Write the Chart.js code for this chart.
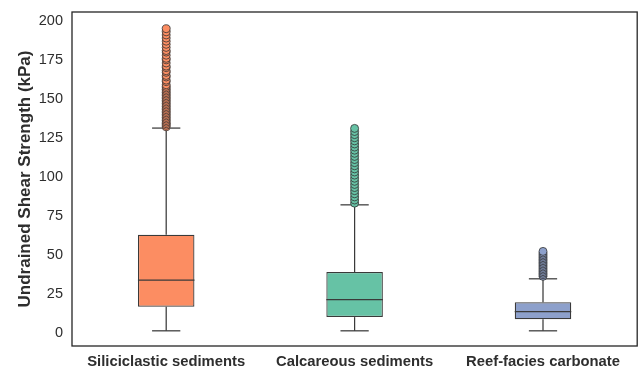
<!DOCTYPE html>
<html>
<head>
<meta charset="utf-8">
<script src="https://cdn.jsdelivr.net/npm/chart.js@4.4.1/dist/chart.umd.min.js"></script>
<style>
  html, body { margin: 0; padding: 0; background: #ffffff; }
  #wrap { width: 642px; height: 368px; position: relative; }
</style>
</head>
<body>
<div id="wrap"><canvas id="c" width="642" height="368"></canvas></div>
<script>
// Sediment groups and their box-plot statistics (kPa)
const categories = ['Siliciclastic sediments', 'Calcareous sediments', 'Reef-facies carbonate'];
const boxColors = ['#fc8d62', '#66c2a5', '#8da0cb'];
const lowerWhisker = [0, 0, 0];
const q1 = [15.4, 8.8, 7.5];
const median = [32.6, 20.1, 12.4];
const q3 = [61.7, 37.7, 18.4];
const upperWhisker = [130.2, 80.9, 33.4];
const yTicks = [0, 25, 50, 75, 100, 125, 150, 175, 200];

// Points beyond the upper whisker
const outliersSiliciclastic = [131, 132, 133, 134, 135, 136, 137, 138, 139, 140, 141, 142, 143, 144, 145,
  146, 147, 148, 149, 150, 151, 152, 153, 154, 155, 156, 157, 158, 160, 161, 163, 164, 166, 167, 169,
  170, 172, 174, 175, 177, 179, 180, 182, 184, 186, 188, 190, 192, 194];
const outliersCalcareous = [82, 84, 86, 88, 90, 92, 94, 96, 98, 100, 102, 104, 106, 108, 110, 112, 114,
  116, 118, 120, 122, 124, 126, 128, 130];
const outliersReef = [35, 36, 37, 38, 39, 40, 41, 42, 43, 44, 45, 46, 47, 48, 49, 50, 51];

const outlierGroups = [outliersSiliciclastic, outliersCalcareous, outliersReef];
const lineColor = '#3a3a3a';
const textColor = '#2e2e2e';
const fontFamily = '"Liberation Sans", Arial, sans-serif';

const outlierDatasets = outlierGroups.map((vals, i) => ({
  type: 'line',
  label: categories[i] + ' outliers',
  data: vals.map(v => ({ x: categories[i], y: v })),
  showLine: false,
  pointRadius: 4,
  pointHoverRadius: 4,
  pointBackgroundColor: boxColors[i],
  pointBorderColor: '#333333',
  pointBorderWidth: 0.8,
  order: 0
}));

// Whiskers and caps drawn under the boxes, medians and frame drawn on top
const boxExtras = {
  id: 'boxExtras',
  beforeDatasetsDraw(chart) {
    const { ctx, scales: { x, y } } = chart;
    const meta = chart.getDatasetMeta(0);
    ctx.save();
    ctx.strokeStyle = lineColor;
    ctx.lineWidth = 1.25;
    categories.forEach((c, i) => {
      const cx = x.getPixelForValue(i);
      const half = meta.data[i].width / 2;
      const capHalf = half / 2;
      const segs = [[q3[i], upperWhisker[i]], [q1[i], lowerWhisker[i]]];
      segs.forEach(([a, b]) => {
        ctx.beginPath();
        ctx.moveTo(cx, y.getPixelForValue(a));
        ctx.lineTo(cx, y.getPixelForValue(b));
        ctx.stroke();
        ctx.beginPath();
        ctx.moveTo(cx - capHalf, y.getPixelForValue(b));
        ctx.lineTo(cx + capHalf, y.getPixelForValue(b));
        ctx.stroke();
      });
    });
    ctx.restore();
  },
  afterDatasetsDraw(chart) {
    const { ctx, chartArea, scales: { x, y } } = chart;
    const meta = chart.getDatasetMeta(0);
    ctx.save();
    ctx.strokeStyle = lineColor;
    ctx.lineWidth = 1.25;
    categories.forEach((c, i) => {
      const cx = x.getPixelForValue(i);
      const half = meta.data[i].width / 2;
      const my = y.getPixelForValue(median[i]);
      ctx.beginPath();
      ctx.moveTo(cx - half, my);
      ctx.lineTo(cx + half, my);
      ctx.stroke();
    });
    ctx.strokeStyle = '#262626';
    ctx.lineWidth = 1.3;
    ctx.strokeRect(chartArea.left, chartArea.top, chartArea.right - chartArea.left, chartArea.bottom - chartArea.top);
    ctx.restore();
  }
};

new Chart(document.getElementById('c'), {
  type: 'bar',
  data: {
    labels: categories,
    datasets: [{
      label: 'Interquartile range',
      data: categories.map((c, i) => [q1[i], q3[i]]),
      backgroundColor: boxColors,
      borderColor: lineColor,
      borderWidth: 1.25,
      borderSkipped: false,
      categoryPercentage: 1,
      barPercentage: 0.3,
      order: 1
    }, ...outlierDatasets]
  },
  options: {
    responsive: false,
    animation: false,
    events: [],
    layout: { padding: { top: 12, right: 2, left: 0, bottom: 0 } },
    plugins: { legend: { display: false }, tooltip: { enabled: false } },
    scales: {
      x: {
        type: 'category',
        grid: { display: false, drawTicks: false },
        border: { display: false },
        ticks: {
          color: textColor,
          padding: 7,
          maxRotation: 0,
          font: { family: fontFamily, size: 14.8, weight: 'bold' }
        },
        afterFit(scale) {
          scale.height = 22;
          scale.paddingLeft = 0;
          scale.paddingRight = 0;
        }
      },
      y: {
        min: -9.75,
        max: 204.75,
        afterBuildTicks(scale) { scale.ticks = yTicks.map(v => ({ value: v })); },
        grid: { display: false, drawTicks: false },
        border: { display: false },
        ticks: {
          color: textColor,
          padding: 9,
          labelOffset: 2,
          font: { family: fontFamily, size: 14.5 }
        },
        title: {
          display: true,
          text: 'Undrained Shear Strength (kPa)',
          color: textColor,
          padding: { top: 15, bottom: 0 },
          font: { family: fontFamily, size: 17, weight: 'bold' }
        },
        afterFit(scale) {
          scale.width = 72;
          scale.paddingTop = 0;
          scale.paddingBottom = 0;
        }
      }
    }
  },
  plugins: [boxExtras]
});
</script>
</body>
</html>
